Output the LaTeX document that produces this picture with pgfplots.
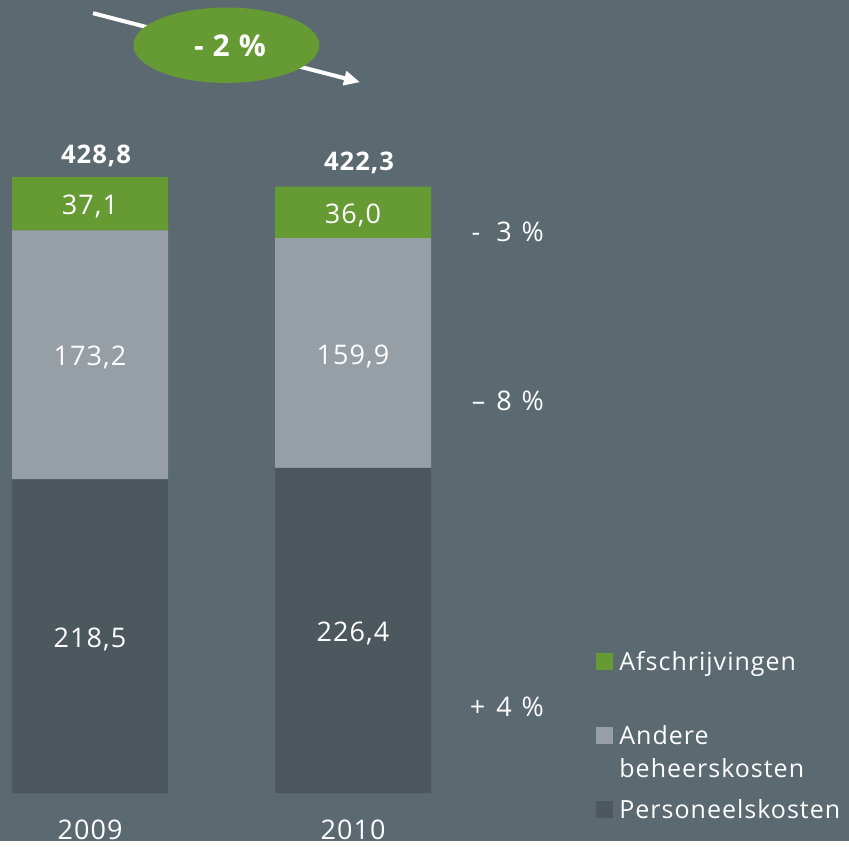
\documentclass[border=0pt]{standalone}
\usepackage{pgfplots}
\pgfplotsset{compat=1.18}
\usepackage{pgfplotstable}
\usepackage{fontspec}
\setmainfont[LetterSpace=4]{Open Sans}
\usetikzlibrary{arrows.meta}

\definecolor{bg}{HTML}{5B6970}
\definecolor{groen}{HTML}{669A33}
\definecolor{lichtgrijs}{HTML}{969FA5}
\definecolor{donker}{HTML}{4C575E}

% kosten per jaar (mln)
\pgfplotstableread{
x pers andere afschr
0 218.5 173.2 37.1
1 226.4 159.9 36.0
}\kosten

\begin{document}
\begin{tikzpicture}
\begin{axis}[
    at={(0,0)}, anchor=south west,
    width=424.5pt, height=420.5pt, scale only axis,
    xmin=-0.3422, xmax=2.8859, ymin=-33.41, ymax=552.0,
    axis background/.style={fill=bg},
    axis line style={draw=none},
    ytick=\empty,
    xtick={0,1}, xticklabels={2009,2010},
    major tick length=0pt,
    xticklabel style={anchor=base, yshift=1pt, text=white,
        font=\fontsize{13.5}{16}\selectfont},
    ybar stacked, bar width=78pt,
    clip=false,
    point meta=explicit,
    nodes near coords={\pgfmathprintnumber{\pgfplotspointmeta}},
    every node near coord/.append style={anchor=center, text=white,
        font=\fontsize{13.5}{16}\selectfont, yshift=-1.5pt,
        /pgf/number format/.cd, use comma, fixed, fixed zerofill,
        precision=1, assume math mode=true},
]
\addplot[fill=donker, draw=none] table[x=x, y=pers, meta=pers] {\kosten};
\addplot[fill=lichtgrijs, draw=none] table[x=x, y=andere, meta=andere] {\kosten};
\addplot[fill=groen, draw=none] table[x=x, y=afschr, meta=afschr] {\kosten};

% totalen
\node[anchor=base, text=white, font=\bfseries\fontsize{12.8}{15}\selectfont,
    xshift=3pt, yshift=7pt] at (axis cs:0,428.8) {428,8};
\node[anchor=base, text=white, font=\bfseries\fontsize{12.8}{15}\selectfont,
    xshift=3pt, yshift=8pt] at (axis cs:1,422.3) {422,3};
\end{axis}

% annotaties in pixelcoordinaten van het beeld
\begin{scope}[x=0.5pt, y=-0.5pt, shift={(0,420.5pt)}]
  \draw[white, line width=2pt, -{Triangle[length=8pt, width=7pt]}]
      (93,13) -- (360,82);
  \fill[groen] (226.3,45) ellipse [x radius=93, y radius=37.7];
  \node[anchor=base, text=white, font=\bfseries\fontsize{15}{17}\selectfont]
      at (230,56.7) {- 2 \%};

  \begin{scope}[every node/.style={anchor=base east, text=white,
        font=\fontsize{13.5}{16}\selectfont}]
    \node at (551,241.7) {-\hspace{8pt}3\hspace{5pt}\%};
    \node at (551,410.7) {–\hspace{5.5pt}8\hspace{5pt}\%};
    \node at (551,716) {+\hspace{5.5pt}4\hspace{5pt}\%};
  \end{scope}

  \begin{scope}[every node/.style={anchor=base west, text=white,
        inner sep=0pt, font=\fontsize{12.5}{16.5}\selectfont}]
    \fill[groen] (596,653) rectangle (613,670);
    \node at (619,670) {Afschrijvingen};
    \fill[lichtgrijs] (596,727) rectangle (613,744);
    \node at (619,744) {Andere};
    \node at (619,777) {beheerskosten};
    \fill[donker] (596,801) rectangle (613,818);
    \node at (619,818) {Personeelskosten};
  \end{scope}
\end{scope}
\end{tikzpicture}
\end{document}
